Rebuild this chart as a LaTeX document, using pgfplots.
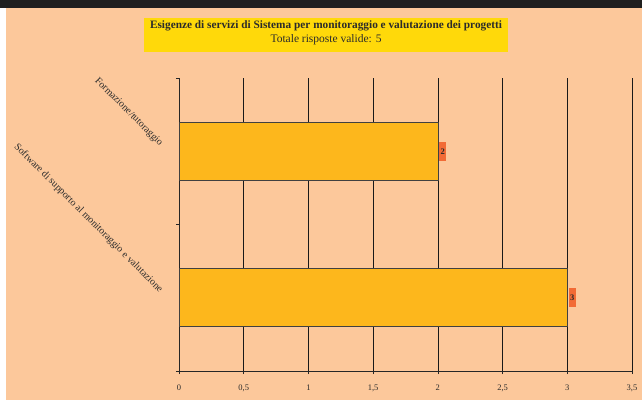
\documentclass[border=0pt]{standalone}
\usepackage{pgfplots}
\pgfplotsset{compat=1.18}
\usepackage{fontspec}
\setmainfont{Liberation Serif}
\definecolor{peach}{HTML}{FCC89B}
\definecolor{titley}{HTML}{FFD90A}
\definecolor{barc}{HTML}{FDB71C}
\definecolor{labc}{HTML}{F26B35}
\definecolor{txt}{HTML}{2B2B2B}
\begin{document}
\begin{tikzpicture}[x=1pt,y=1pt]
\fill[white] (0,0) rectangle (642,400);
\fill[peach] (6,0) rectangle (642,392);
\fill[black!88] (0,392) rectangle (642,400);
\fill[titley] (144,348) rectangle (508,382);
\node[font=\fontsize{11.3}{12}\selectfont\bfseries, text=txt] at (326,374) {Esigenze di servizi di Sistema per monitoraggio e valutazione dei progetti};
\node[font=\fontsize{11.5}{12}\selectfont, text=txt] at (326,360) {Totale risposte valide: 5};
\begin{axis}[
  at={(179pt,29pt)}, anchor=south west,
  scale only axis, width=453pt, height=293pt,
  xbar, bar width=58pt,
  xmin=0, xmax=3.5, ymin=-0.5, ymax=1.5,
  axis x line=bottom, axis y line=left,
  axis line style={black!85, line width=0.6pt, -},
  xtick={0,0.5,...,3.5},
  /pgf/number format/use comma,
  /pgf/number format/assume math mode=true,
  xticklabel style={font=\fontsize{8.5}{9}\selectfont, text=txt, yshift=-10pt},
  xmajorgrids, grid style={black!90, line width=0.6pt},
  ytick={0,1}, yticklabels={Software di supporto al monitoraggio e valutazione, Formazione/tutoraggio},
  minor ytick={-0.5,0.5,1.5},
  major tick length=0pt, minor tick length=3pt,
  tick align=outside,
  tick style={black!85, line width=0.6pt},
  xtick style={/pgfplots/major tick length=3pt},
  yticklabel style={font=\fontsize{10}{11}\selectfont, text=txt, rotate=-45, anchor=east, xshift=-14pt, yshift=-8pt},
  nodes near coords,
  every node near coord/.append style={fill=labc, text=txt, font=\fontsize{8.5}{9}\selectfont\bfseries, inner xsep=1.5pt, minimum height=19pt, anchor=west, xshift=1pt},
]
\addplot[fill=barc, draw=black!75, line width=0.6pt] coordinates {(3,0) (2,1)};
\end{axis}
\end{tikzpicture}
\end{document}
